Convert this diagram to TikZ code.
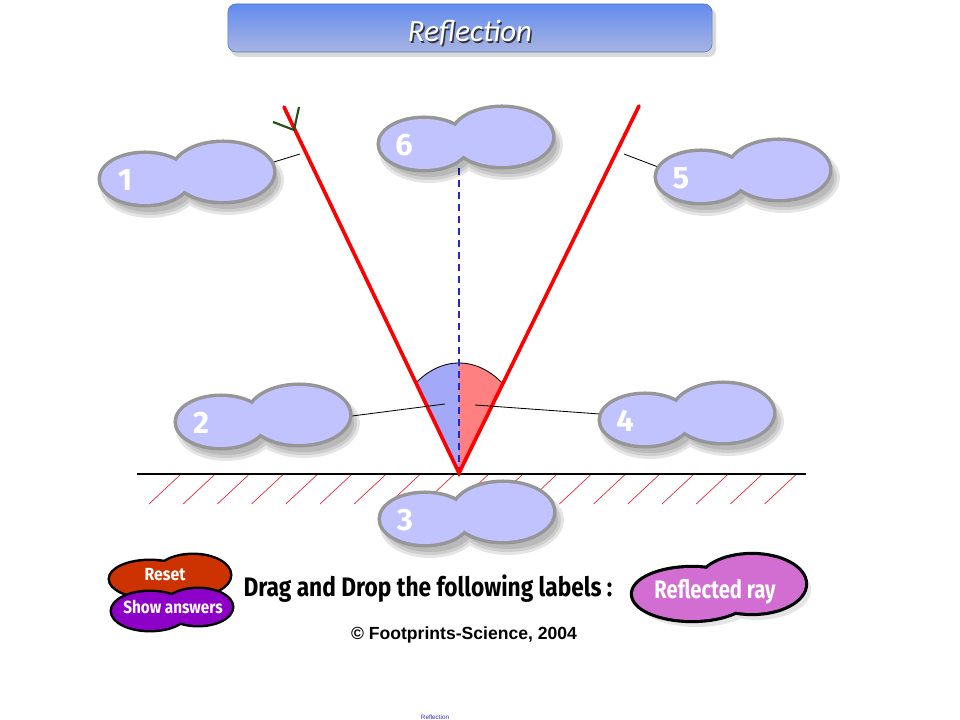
\documentclass[tikz,border=0pt]{standalone}
\usepackage{fontspec}
\setmainfont{Liberation Sans}
\newfontfamily\titlefont{Carlito}
\newfontfamily\comicfont{Fira Sans}
\usetikzlibrary{calc}

\definecolor{cloudfill}{RGB}{192,195,255}
\definecolor{cloudline}{RGB}{150,150,150}
\definecolor{incfill}{RGB}{164,168,248}
\definecolor{reffill}{RGB}{255,128,128}
\definecolor{hatchred}{RGB}{230,40,60}
\definecolor{normalblue}{RGB}{40,40,190}
\definecolor{arrowgreen}{RGB}{30,80,20}
\definecolor{resetfill}{RGB}{204,51,0}
\definecolor{showfill}{RGB}{140,0,200}
\definecolor{labelfill}{RGB}{210,110,210}
\definecolor{titletop}{RGB}{98,140,238}
\definecolor{titlebottom}{RGB}{168,180,226}

\begin{document}
\begin{tikzpicture}[x=0.025cm, y=-0.025cm,
	ray/.style={draw=red, line width=2.6pt, line cap=round},
	leader/.style={draw=black, line width=0.6pt},
	hatch/.style={draw=hatchred, line width=0.5pt},
	normal/.style={draw=normalblue, line width=0.8pt, dash pattern=on 5pt off 3.5pt},
	cloudedge/.style={draw=cloudline, line width=5pt},
	cloudshadow/.style={fill=black, opacity=0.1},
	cloudnum/.style={text=white, font=\comicfont\bfseries\fontsize{22}{22}\selectfont, anchor=base},
	btnedge/.style={draw=black, line width=3.5pt},
	btntext/.style={text=white, font=\comicfont\bfseries\fontsize{12.5}{12.5}\selectfont, anchor=base},
	titlebox/.style={minimum width=12.1cm, minimum height=1.2cm, rounded corners=0.2cm,
		top color=titletop, bottom color=titlebottom, draw=titletop!80!black, line width=0.4pt}]

	\useasboundingbox (0,0) rectangle (960,720);

	\coordinate (I) at (459,473);
	\coordinate (A) at (284,107);
	\coordinate (B) at (639,106);
	\coordinate (N) at (459,168);

	% title bar
	\fill[black, opacity=0.15, rounded corners=0.2cm] (231,8) rectangle (716,57);
	\node[titlebox] (title) at (470,28) {};
	\node[text=black!80, anchor=base, font=\titlefont\itshape\fontsize{22}{22}\selectfont]
		(titleshadow) at (471.5,43.5) {Reflection};
	\node[text=white, anchor=base, font=\titlefont\itshape\fontsize{22}{22}\selectfont]
		(titletext) at (470,42) {Reflection};

	% mirror
	\foreach \k in {0,...,18}
		\draw[hatch] (180+34.2*\k,475) -- ++(-31,29);
	\draw[draw=black, line width=2pt] (137,474) -- (806,474);

	% angles
	\begin{scope}
		\clip (I) -- (A) -- (I |- A) -- cycle;
		\fill[incfill] (I) ellipse [x radius=75, y radius=110];
	\end{scope}
	\begin{scope}
		\clip (I) -- (B) -- (I |- B) -- cycle;
		\fill[reffill] (I) ellipse [x radius=75, y radius=110];
	\end{scope}
	\begin{scope}
		\clip (I) -- (A) -- (B) -- cycle;
		\draw[black, line width=0.6pt] (I) ellipse [x radius=75, y radius=110];
	\end{scope}

	\draw[normal] (N) -- (I);
	\draw[ray] (A) -- (I) -- (B);

	% arrow on incident ray
	\coordinate (tip) at (294,130);
	\draw[arrowgreen, line width=1.5pt] (273,122) -- (tip) -- (299,107);

	% leader lines
	\coordinate (l1a) at (274,162);
	\coordinate (l1b) at (300,154);
	\coordinate (l5a) at (658,167);
	\coordinate (l5b) at (624,154);
	\coordinate (l2a) at (352,416);
	\coordinate (l2b) at (445,404);
	\coordinate (l4a) at (600,414);
	\coordinate (l4b) at (475,405);
	\draw[leader] (l1a) -- (l1b);
	\draw[leader] (l5a) -- (l5b);
	\draw[leader] (l2a) -- (l2b);
	\draw[leader] (l4a) -- (l4b);

	% label clouds
	\foreach \cx/\cy/\num in {187/176/1, 263/419/2, 467/516/3, 687/417/4, 743/174/5, 466/141/6}{
		\foreach \s in {0,3,6}
			\fill[cloudshadow] (\cx-42+5,\cy+3+8) ellipse [x radius=44+\s, y radius=25+\s]
				(\cx+36+5,\cy-4+8) ellipse [x radius=50+\s, y radius=29+\s];
		\draw[cloudedge] (\cx-42,\cy+3) ellipse [x radius=44, y radius=25]
			(\cx+36,\cy-4) ellipse [x radius=50, y radius=29];
		\fill[cloudfill] (\cx-42,\cy+3) ellipse [x radius=44, y radius=25]
			(\cx+36,\cy-4) ellipse [x radius=50, y radius=29];
		\node[cloudnum] (n\num) at (\cx-62,\cy+15) {\num};
	}

	% buttons
	\draw[btnedge] (150,579) ellipse [x radius=40, y radius=18] (193,575) ellipse [x radius=37, y radius=20];
	\fill[resetfill] (150,579) ellipse [x radius=40, y radius=18] (193,575) ellipse [x radius=37, y radius=20];
	\draw[btnedge] (150,611) ellipse [x radius=38, y radius=19] (198,607) ellipse [x radius=34, y radius=18];
	\fill[showfill] (150,611) ellipse [x radius=38, y radius=19] (198,607) ellipse [x radius=34, y radius=18];
	\node[btntext] (reset) at (165,580) {\scalebox{0.9}[1]{Reset}};
	\node[btntext] (show) at (173,613) {\scalebox{0.87}[1]{Show answers}};

	\node[anchor=base, font=\comicfont\bfseries\fontsize{19}{19}\selectfont]
		(drag) at (428,597) {\scalebox{0.85}[1]{Drag and Drop the following labels :}};

	\fill[black, opacity=0.1] (697,600) ellipse [x radius=60, y radius=27] (757,590) ellipse [x radius=54, y radius=30];
	\draw[btnedge, line width=4.5pt] (692,594) ellipse [x radius=59, y radius=26] (752,584) ellipse [x radius=53, y radius=29];
	\fill[labelfill] (692,594) ellipse [x radius=59, y radius=26] (752,584) ellipse [x radius=53, y radius=29];
	\node[btntext, font=\comicfont\bfseries\fontsize{18}{18}\selectfont]
		(refl) at (715,599) {\scalebox{0.8}[1]{Reflected ray}};

	\node[anchor=base, font=\bfseries\fontsize{12.5}{12.5}\selectfont]
		(copy) at (464,639) {© Footprints-Science, 2004};
	\node[anchor=base, text=normalblue, font=\fontsize{4.5}{4.5}\selectfont]
		(tiny) at (435,719) {Reflection};

\end{tikzpicture}
\end{document}
